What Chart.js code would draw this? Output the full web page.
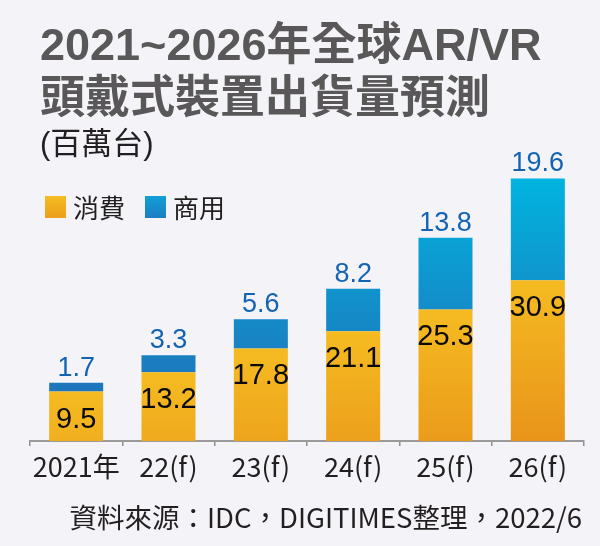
<!DOCTYPE html>
<html>
<head>
<meta charset="utf-8">
<script src="https://cdn.jsdelivr.net/npm/chart.js@4.4.1/dist/chart.umd.min.js"></script>
<style>
  html, body { margin: 0; padding: 0; background: #f3f3f8; }
  #wrap { position: relative; width: 600px; height: 546px; overflow: hidden; }
  canvas { position: absolute; left: 0; top: 0; }
  .t { position: absolute; white-space: nowrap; line-height: 1; }
  .title { left: 40px; font: bold 45px "Liberation Sans", "Noto Sans CJK TC", sans-serif; color: #595757; }
  #t1 { top: 8px; }
  #t2 { top: 61px; }
  #sub { left: 40px; top: 118px; font: 31px "Liberation Sans", "Noto Sans CJK TC", sans-serif; color: #231f20; }
  #src { right: 18px; top: 496px; font: 27.5px "Noto Sans CJK TC", sans-serif; color: #231f20; }
  #legend { position: absolute; left: 45px; top: 194px; display: flex; align-items: center; font: 26px "Noto Sans CJK TC", sans-serif; color: #231f20; line-height: 1; }
  #legend .item { display: flex; align-items: center; margin-right: 20px; }
  #legend .sw { width: 21px; height: 22px; margin-right: 7px; }
</style>
</head>
<body>
<div id="wrap">
  <canvas id="c" width="600" height="546"></canvas>
  <div class="t title" id="t1">2021~2026年全球AR/VR</div>
  <div class="t title" id="t2">頭戴式裝置出貨量預測</div>
  <div class="t" id="sub">(百萬台)</div>
  <div id="legend"></div>
  <div class="t" id="src">資料來源：IDC，DIGITIMES整理，2022/6</div>
</div>
<script>
const categories = ['2021年', '22(f)', '23(f)', '24(f)', '25(f)', '26(f)'];
const consumer = [9.5, 13.2, 17.8, 21.1, 25.3, 30.9];
const commercial = [1.7, 3.3, 5.6, 8.2, 13.8, 19.6];
const seriesNames = ['消費', '商用'];
const swatchColors = ['linear-gradient(#f5bb21, #ec9f1c)', 'linear-gradient(#12a0d8, #1a7dc1)'];

function orangeFill(ctx) {
  const chart = ctx.chart;
  const ys = chart.scales.y;
  if (!ys || ctx.type !== 'data' || ctx.dataIndex === undefined) return '#f0ab1f';
  const top = ys.getPixelForValue(consumer[ctx.dataIndex]);
  if (!isFinite(top)) return '#f0ab1f';
  const g = chart.ctx.createLinearGradient(0, top, 0, top + 165);
  g.addColorStop(0, '#f5bb21');
  g.addColorStop(1, '#e8931a');
  return g;
}
function blueFill(ctx) {
  const chart = ctx.chart;
  const ys = chart.scales.y;
  if (!ys) return '#0a90cc';
  const y0 = ys.getPixelForValue(52), y1 = ys.getPixelForValue(9);
  if (!isFinite(y0) || !isFinite(y1) || y0 === y1) return '#0a90cc';
  const g = chart.ctx.createLinearGradient(0, y0, 0, y1);
  g.addColorStop(0, '#00b6e0');
  g.addColorStop(1, '#1f74bb');
  return g;
}

const valueLabels = {
  id: 'valueLabels',
  afterDatasetsDraw(chart) {
    const c = chart.ctx;
    c.save();
    c.textAlign = 'center';
    const m0 = chart.getDatasetMeta(0);
    const m1 = chart.getDatasetMeta(1);
    m0.data.forEach((el, i) => {
      c.font = '29px "Liberation Sans", Arial, sans-serif';
      c.fillStyle = '#0a0a0a';
      c.textBaseline = 'middle';
      c.fillText(consumer[i].toFixed(1), el.x, el.y + 28);
    });
    m1.data.forEach((el, i) => {
      c.font = '27px "Liberation Sans", Arial, sans-serif';
      c.fillStyle = '#1463b3';
      c.textBaseline = 'alphabetic';
      c.fillText(commercial[i].toFixed(1), el.x, el.y - 7);
    });
    c.restore();
  }
};

const chart = new Chart(document.getElementById('c'), {
  type: 'bar',
  data: {
    labels: categories,
    datasets: [
      { label: seriesNames[0], data: consumer, backgroundColor: orangeFill, borderWidth: 0 },
      { label: seriesNames[1], data: commercial, backgroundColor: blueFill, borderWidth: 0 }
    ]
  },
  options: {
    responsive: false,
    animation: false,
    devicePixelRatio: 1,
    layout: { padding: { left: 30, right: 16, top: 129, bottom: 57.6 } },
    datasets: { bar: { barPercentage: 0.585, categoryPercentage: 1 } },
    scales: {
      x: {
        stacked: true,
        grid: { display: true, drawOnChartArea: false, drawTicks: true, tickLength: 5, color: '#8f8f8f', lineWidth: 1.5, offset: true },
        border: { display: true, color: '#9a9a9a', width: 2 },
        ticks: { color: '#231f20', padding: 5, maxRotation: 0, minRotation: 0, autoSkip: false,
                 font: { family: '"Noto Sans CJK TC", sans-serif', size: 27 } }
      },
      y: { stacked: true, display: false, min: 0, max: 60 }
    },
    plugins: {
      legend: { display: false },
      tooltip: { enabled: false }
    }
  },
  plugins: [valueLabels]
});

// HTML legend built from the chart's datasets
const legendEl = document.getElementById('legend');
chart.data.datasets.forEach((ds, i) => {
  const item = document.createElement('div');
  item.className = 'item';
  const sw = document.createElement('span');
  sw.className = 'sw';
  sw.style.background = swatchColors[i];
  const tx = document.createElement('span');
  tx.textContent = ds.label;
  item.appendChild(sw);
  item.appendChild(tx);
  legendEl.appendChild(item);
});
</script>
</body>
</html>
